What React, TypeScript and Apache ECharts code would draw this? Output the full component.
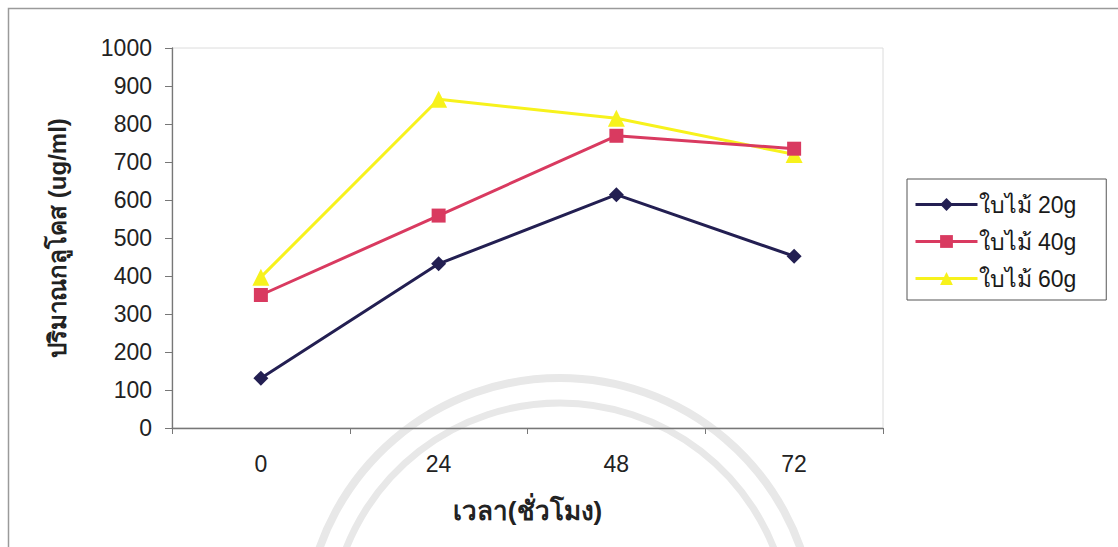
import React, { useEffect, useRef } from "react";
import * as echarts from "echarts";

const categories = ["0", "24", "48", "72"];
const seriesNames = ["ใบไม้ 20g", "ใบไม้ 40g", "ใบไม้ 60g"];
const leaf20 = [131, 432, 614, 452];
const leaf40 = [350, 559, 769, 735];
const leaf60 = [397, 865, 815, 720];
const yTitle = "ปริมาณกลูโคส (ug/ml)";
const xTitle = "เวลา(ชั่วโมง)";

const FONT = "Arial, 'Liberation Sans', 'DejaVu Sans', sans-serif";

export default function App() {
  const ref = useRef<HTMLDivElement>(null);
  useEffect(() => {
    if (!ref.current) return;
    const chart = echarts.init(ref.current, undefined, { renderer: "svg" });
    const colors = ["#231f52", "#d93a60", "#f7f21c"];
    const symbols = ["diamond", "rect", "triangle"];
    const sizes = [15, 14, 17];
    const datas = [leaf20, leaf40, leaf60];
    chart.setOption({
      animation: false,
      backgroundColor: "#ffffff",
      textStyle: { fontFamily: FONT },
      graphic: [
        {
          type: "rect",
          shape: { x: 8.5, y: 8.5, width: 1130, height: 560 },
          style: { fill: "none", stroke: "#9a9a9a", lineWidth: 1.5 },
          silent: true,
          z: -10,
        },
        {
          type: "arc",
          shape: { cx: 560, cy: 633, r: 255, startAngle: Math.PI * 1.05, endAngle: Math.PI * 1.95 },
          style: { fill: "none", stroke: "#e8e8e8", lineWidth: 8 },
          silent: true,
          z: -5,
        },
        {
          type: "arc",
          shape: { cx: 560, cy: 633, r: 230, startAngle: Math.PI * 1.08, endAngle: Math.PI * 1.92 },
          style: { fill: "none", stroke: "#e8e8e8", lineWidth: 7 },
          silent: true,
          z: -5,
        },
      ],
      grid: {
        left: 172,
        right: 235,
        top: 48,
        bottom: 119,
        show: true,
        borderColor: "#dcdcdc",
        borderWidth: 1,
      },
      legend: {
        orient: "vertical",
        left: 907,
        top: 179,
        padding: [14, 30, 10, 7],
        itemWidth: 62,
        itemHeight: 16,
        itemGap: 14,
        backgroundColor: "#ffffff",
        borderColor: "#555555",
        borderWidth: 1,
        lineStyle: { width: 3 },
        data: seriesNames,
        textStyle: { fontFamily: FONT, fontSize: 23, lineHeight: 22, color: "#1a1a1a", padding: [0, 0, 0, -4] },
      },
      xAxis: {
        type: "category",
        data: categories,
        boundaryGap: true,
        name: xTitle,
        nameLocation: "middle",
        nameGap: 70,
        nameTextStyle: { fontFamily: FONT, fontSize: 26, fontWeight: "bold", color: "#222" },
        axisLine: { lineStyle: { color: "#777", width: 1.3 } },
        axisTick: { show: true, length: 6, alignWithLabel: false, lineStyle: { color: "#777" } },
        axisLabel: { fontFamily: FONT, fontSize: 23, color: "#222", margin: 24 },
      },
      yAxis: {
        type: "value",
        min: 0,
        max: 1000,
        interval: 100,
        name: yTitle,
        nameLocation: "middle",
        nameGap: 103,
        nameRotate: 90,
        nameTextStyle: { fontFamily: FONT, fontSize: 24, fontWeight: "bold", color: "#222" },
        axisLine: { show: true, lineStyle: { color: "#777", width: 1.3 } },
        axisTick: { show: true, length: 7, lineStyle: { color: "#777" } },
        splitLine: { show: false },
        axisLabel: {
          fontFamily: FONT,
          fontSize: 23,
          color: "#222",
          margin: 20,
          formatter: (v: number) => String(v),
        },
      },
      series: seriesNames.map((name, i) => ({
        name,
        type: "line",
        data: datas[i],
        symbol: symbols[i],
        symbolSize: sizes[i],
        itemStyle: { color: colors[i] },
        lineStyle: { color: colors[i], width: 3 },
        z: 3 - i,
      })),
    });
    return () => chart.dispose();
  }, []);
  return (
    <div
      ref={ref}
      style={{ position: "absolute", left: 0, top: 0, width: 1118, height: 547 }}
    />
  );
}
